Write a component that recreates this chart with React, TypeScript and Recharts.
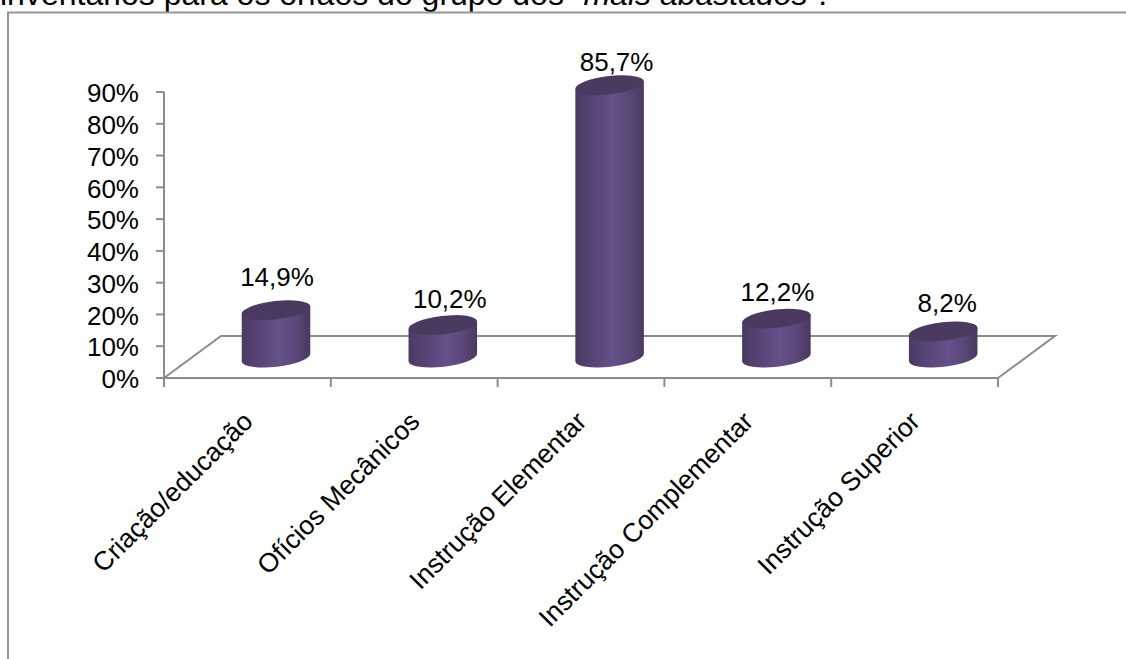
import React from "react";
import { BarChart, Bar, XAxis, YAxis, LabelList, usePlotArea } from "recharts";

const categories = [
  "Criação/educação",
  "Ofícios Mecânicos",
  "Instrução Elementar",
  "Instrução Complementar",
  "Instrução Superior",
];
const percentages = [14.9, 10.2, 85.7, 12.2, 8.2];
const yTicks = [0, 10, 20, 30, 40, 50, 60, 70, 80, 90];
const caption = "inventários para os órfãos do grupo dos ";
const captionEmphasis = "“mais abastados”";
const captionEnd = ".";
// Hand-placed value labels: shift per category from the standard position.
const labelLift = [7, 0, -3, 0, 2];
const labelShift = [0, 6, 6, 0, 3];

const rows = categories.map((name, i) => ({ name, value: percentages[i] }));

const FONT = "'Liberation Sans', Arial, sans-serif";
const AXIS = "#8c8c8c";
const DEPTH_X = 57;
const DEPTH_Y = 42;
const RX = 34.5;
const RY = 9.2;
const TILT = -6.6;

// Frame, pseudo-3D floor and the tick marks that sit between categories.
function Stage() {
  const area = usePlotArea();
  if (!area) return null;
  const { x, y, width, height } = area;
  const floorY = y + height;
  const band = width / categories.length;
  return (
    <g>
      <text x={0} y={5} fontFamily={FONT} fontSize={32} fill="#000">
        {caption}
        <tspan fontStyle="italic">{captionEmphasis}</tspan>
        {captionEnd}
      </text>
      <path d="M8 659 V12.5 H1126" fill="none" stroke="#969696" strokeWidth={2} />
      <path
        d={`M${x} ${floorY} L${x + DEPTH_X} ${floorY - DEPTH_Y} H${x + width + DEPTH_X} L${x + width} ${floorY}`}
        fill="none"
        stroke={AXIS}
        strokeWidth={2}
      />
      {[0, 1, 2, 3, 4, 5].map((i) => (
        <line
          key={i}
          x1={x + band * i}
          x2={x + band * i}
          y1={floorY}
          y2={floorY + 9}
          stroke={AXIS}
          strokeWidth={2}
        />
      ))}
    </g>
  );
}

// Cylinder standing in the middle of the floor's depth.
function Cylinder(props: any) {
  const { x, y, width, height } = props;
  const cx = x + width / 2 + DEPTH_X / 2;
  const topY = y - DEPTH_Y / 2 + 0.5;
  const botY = y + height - DEPTH_Y / 2 + 0.5;
  const dx = RX * Math.cos((TILT * Math.PI) / 180);
  const dy = RX * Math.sin((TILT * Math.PI) / 180);
  const lx = cx - dx;
  const rx = cx + dx;
  return (
    <g>
      <path
        d={`M${lx} ${topY - dy} L${rx} ${topY + dy} L${rx} ${botY + dy} A${RX} ${RY} ${TILT} 0 1 ${lx} ${botY - dy} Z`}
        fill="url(#cylinderBody)"
      />
      <ellipse
        cx={cx}
        cy={topY}
        rx={RX}
        ry={RY}
        transform={`rotate(${TILT} ${cx} ${topY})`}
        fill="#4a3a60"
      />
    </g>
  );
}

function ValueLabel(props: any) {
  const { x, y, width, value, index } = props;
  return (
    <text
      x={x + width / 2 + DEPTH_X / 2 + 1 + labelShift[index]}
      y={y - DEPTH_Y / 2 - 17 - labelLift[index]}
      textAnchor="middle"
      fontFamily={FONT}
      fontSize={26}
      fill="#000"
    >
      {`${String(value).replace(".", ",")}%`}
    </text>
  );
}

function CategoryTick(props: any) {
  const { x, y, payload } = props;
  const ax = x + 7;
  const ay = y + 37;
  return (
    <text
      x={ax}
      y={ay}
      textAnchor="end"
      transform={`rotate(-45 ${ax} ${ay})`}
      fontFamily={FONT}
      fontSize={26.5}
      fill="#000"
    >
      {payload.value}
    </text>
  );
}

export default function App() {
  return (
    <div style={{ position: "absolute", left: 0, top: 0, background: "#fff" }}>
      <BarChart
        width={1126}
        height={659}
        data={rows}
        margin={{ top: 92, right: 128, bottom: 0, left: 0 }}
        barSize={69}
      >
        <defs>
          <linearGradient id="cylinderBody" x1="0" x2="1" y1="0" y2="0">
            <stop offset="0" stopColor="#4b3a64" />
            <stop offset="0.55" stopColor="#66508a" />
            <stop offset="0.8" stopColor="#5a4778" />
            <stop offset="1" stopColor="#493860" />
          </linearGradient>
        </defs>
        <Stage />
        <XAxis
          dataKey="name"
          height={281}
          interval={0}
          axisLine={{ stroke: AXIS, strokeWidth: 2 }}
          tickLine={false}
          tick={<CategoryTick />}
        />
        <YAxis
          width={164}
          domain={[0, 90]}
          ticks={yTicks}
          interval={0}
          tickFormatter={(v: number) => `${v}%`}
          axisLine={{ stroke: AXIS, strokeWidth: 2 }}
          tickLine={{ stroke: AXIS, strokeWidth: 2 }}
          tickSize={8}
          tickMargin={17}
          tick={{ fontFamily: FONT, fontSize: 26, fill: "#000", dy: 1 }}
        />
        <Bar dataKey="value" shape={<Cylinder />} isAnimationActive={false}>
          <LabelList dataKey="value" content={<ValueLabel />} />
        </Bar>
      </BarChart>
    </div>
  );
}
